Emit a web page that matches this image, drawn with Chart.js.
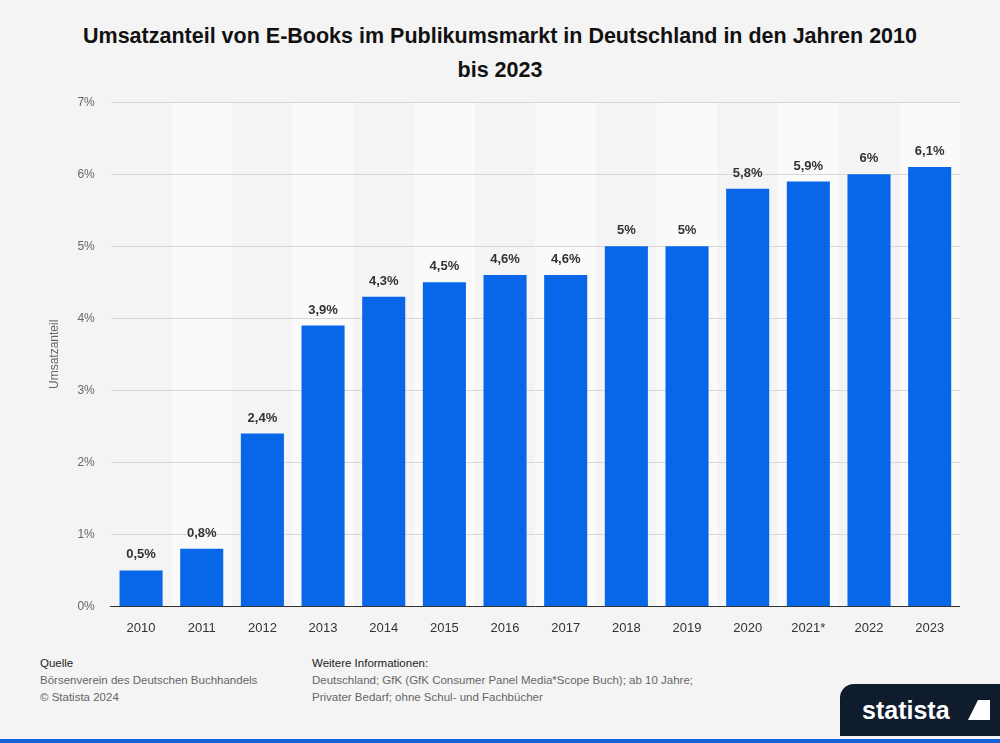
<!DOCTYPE html>
<html><head><meta charset="utf-8">
<script src="https://cdn.jsdelivr.net/npm/chart.js@4"></script>
<style>
body{margin:0;width:1000px;height:743px;background:#f4f4f4;font-family:"Liberation Sans",Arial,sans-serif;position:relative;overflow:hidden}
#t{position:absolute;top:19px;left:75px;width:850px;text-align:center;font-weight:bold;font-size:21.5px;line-height:34px;color:#111}
#c{position:absolute;left:37px;top:79px;width:923px;height:563px}
.f{position:absolute;font-size:11.5px;color:#666;line-height:17px}
.f b{color:#222;font-weight:normal}
#logo{position:absolute;right:0;top:684px;width:160px;height:52px;background:#0f1c2e;border-top-left-radius:14px;color:#fff;font-weight:bold;font-size:25px}
#bl{position:absolute;left:0;bottom:0;width:1000px;height:4px;background:#1565d8}
</style></head><body>
<div id="t">Umsatzanteil von E-Books im Publikumsmarkt in Deutschland in den Jahren 2010 bis 2023</div>
<div id="c"><canvas id="cv"></canvas></div>
<div class="f" style="left:40px;top:655px"><b>Quelle</b><br>Börsenverein des Deutschen Buchhandels<br>© Statista 2024</div>
<div class="f" style="left:312px;top:655px"><b>Weitere Informationen:</b><br>Deutschland; GfK (GfK Consumer Panel Media*Scope Buch); ab 10 Jahre;<br>Privater Bedarf; ohne Schul- und Fachbücher</div>
<div id="logo"><span style="position:absolute;left:22px;top:12px">statista</span><svg style="position:absolute;left:128px;top:16px" width="22" height="20"><path d="M0 20 L10 0 L22 0 L22 20 Z" fill="#fff"/></svg></div>
<div id="bl"></div>
<script>
const categories=["2010","2011","2012","2013","2014","2015","2016","2017","2018","2019","2020","2021*","2022","2023"];
const values=[0.5,0.8,2.4,3.9,4.3,4.5,4.6,4.6,5,5,5.8,5.9,6,6.1];
const yTicks=[0,1,2,3,4,5,6,7];
const fmt=v=>String(v).replace('.',',')+'%';
const stripes={id:'s',beforeDraw(c){const {ctx,chartArea:a,scales:{x}}=c;const w=x.getPixelForValue(1)-x.getPixelForValue(0);ctx.save();ctx.fillStyle='#fafafa';for(let i=1;i<categories.length;i+=2){ctx.fillRect(x.getPixelForValue(i)-w/2,a.top,w,a.bottom-a.top);}ctx.restore();}};
const labels={id:'l',afterDatasetsDraw(c){const {ctx}=c;const m=c.getDatasetMeta(0);ctx.save();ctx.font='bold 13px "Liberation Sans",Arial';ctx.fillStyle='#333';ctx.textAlign='center';ctx.textBaseline='bottom';m.data.forEach((b,i)=>ctx.fillText(fmt(values[i]),b.x,b.y-9));ctx.restore();}};
new Chart(document.getElementById('cv'),{type:'bar',data:{labels:categories,datasets:[{data:values,backgroundColor:'#0866e8',categoryPercentage:1,barPercentage:0.71}]},
options:{responsive:true,maintainAspectRatio:false,animation:false,layout:{padding:{top:6,right:0,left:6}},plugins:{legend:{display:false},tooltip:{enabled:false}},
scales:{y:{min:0,max:7,afterBuildTicks(s){s.ticks=yTicks.map(v=>({value:v}));},border:{display:false},grid:{color:'#d8d8d8',drawTicks:false,lineWidth:1,borderDash:[2,2]},ticks:{padding:16,color:'#666',font:{size:12},callback:v=>v+'%'},title:{display:true,text:'Umsatzanteil',color:'#666',font:{size:12},padding:{bottom:0}}},
x:{grid:{display:false},border:{color:'#333'},ticks:{color:'#333',font:{size:13},padding:6}}}},plugins:[stripes,labels]});
</script></body></html>
